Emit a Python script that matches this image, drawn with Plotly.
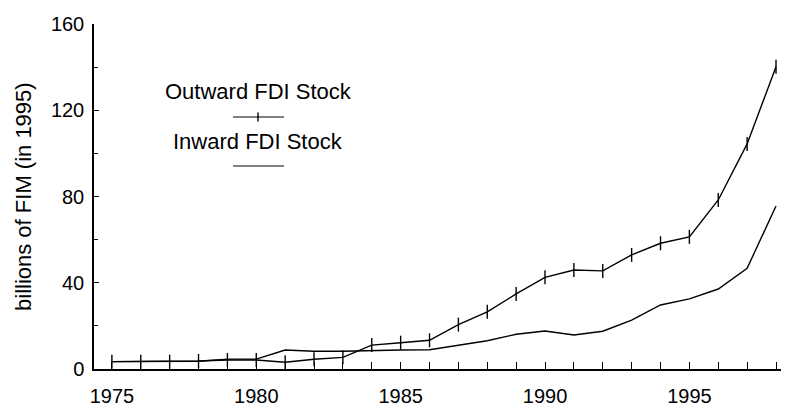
import plotly.graph_objects as go

years = list(range(1975, 1999))
outward = [3.4, 3.4, 3.4, 3.7, 4.2, 4.2, 3.1, 4.5, 5.4, 11.1, 12.2, 13.3,
           20.6, 26.5, 34.8, 42.5, 45.9, 45.5, 52.9, 58.3, 61.3, 78.4, 104.4, 140.2]
inward = [3.4, 3.4, 3.4, 3.6, 4.6, 4.6, 8.8, 8.2, 8.2, 8.6, 8.8, 8.9,
          11.1, 13.1, 16.1, 17.6, 15.8, 17.5, 22.7, 29.7, 32.5, 37.1, 46.7, 75.6]

y_ticks = [0, 40, 80, 120, 160]
x_ticks = [1975, 1980, 1985, 1990, 1995]

FONT = "Liberation Sans, Arial, sans-serif"

fig = go.Figure()
fig.add_trace(go.Scatter(
    x=years, y=inward, mode="lines", name="Inward FDI Stock",
    line=dict(color="black", width=1.4), showlegend=False))
fig.add_trace(go.Scatter(
    x=years, y=outward, mode="lines+markers", name="Outward FDI Stock",
    line=dict(color="black", width=1.4),
    marker=dict(symbol="line-ns", size=10, line=dict(color="black", width=1.4)),
    showlegend=False))

fig.update_layout(
    width=781, height=403,
    margin=dict(l=86, r=0, t=16, b=42),
    paper_bgcolor="white", plot_bgcolor="white",
    font=dict(family=FONT, size=20, color="black"),
    xaxis=dict(
        range=[1974.38, 1998.45], showgrid=False, zeroline=False,
        showline=True, linecolor="black", linewidth=1.5,
        tickmode="array", tickvals=x_ticks, ticktext=[str(v) for v in x_ticks],
        ticks="inside", ticklen=7, tickwidth=1.2, tickcolor="black",
        minor=dict(dtick=1, tick0=1975, ticks="inside", ticklen=7, tickwidth=1.2, tickcolor="black"),
        tickfont=dict(size=20), ticklabelstandoff=8,
    ),
    yaxis=dict(
        range=[0, 160], showgrid=False, zeroline=False,
        showline=True, linecolor="black", linewidth=1.5,
        tickmode="array", tickvals=y_ticks, ticktext=[str(v) for v in y_ticks],
        ticks="inside", ticklen=5, tickwidth=1.2, tickcolor="black",
        minor=dict(dtick=20, tick0=0, ticks="inside", ticklen=4, tickwidth=1, tickcolor="black"),
        tickfont=dict(size=20), ticklabelstandoff=4,
    ),
    annotations=[
        dict(text="billions of FIM (in 1995)", textangle=-90, xref="paper", yref="paper",
             x=-0.1007, y=0.4986, xanchor="center", yanchor="middle", showarrow=False,
             font=dict(size=22, family=FONT)),
        dict(text="Outward FDI Stock", xref="paper", yref="paper", x=0.2374, y=0.803,
             xanchor="center", yanchor="middle", showarrow=False, font=dict(size=22, family=FONT)),
        dict(text="Inward FDI Stock", xref="paper", yref="paper", x=0.236, y=0.658,
             xanchor="center", yanchor="middle", showarrow=False, font=dict(size=22, family=FONT)),
    ],
    shapes=[
        dict(type="line", xref="paper", yref="paper", x0=0.2, x1=0.2734, y0=0.7304, y1=0.7304,
             line=dict(color="black", width=1.2)),
        dict(type="line", xref="paper", yref="paper", x0=0.236, x1=0.236, y0=0.7174, y1=0.7434,
             line=dict(color="black", width=1.4)),
        dict(type="line", xref="paper", yref="paper", x0=0.2, x1=0.2734, y0=0.5884, y1=0.5884,
             line=dict(color="black", width=1.2)),
    ],
)

fig.write_html("out.html")
